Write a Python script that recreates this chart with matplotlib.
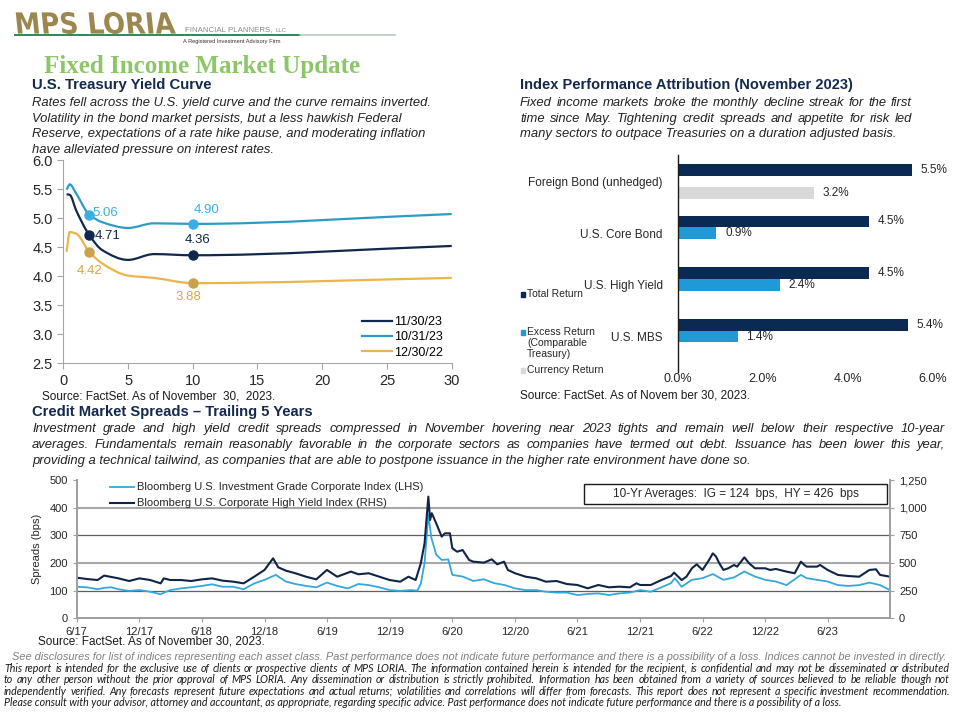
import numpy as np
import pandas as pd
import matplotlib
matplotlib.use('Agg')
import matplotlib.pyplot as plt
import matplotlib.dates as md
from matplotlib.path import Path
from matplotlib.patches import PathPatch, Rectangle
from matplotlib.lines import Line2D
from matplotlib.textpath import TextPath
from matplotlib.font_manager import FontProperties
from matplotlib.transforms import Affine2D
from matplotlib.ticker import FuncFormatter

plt.rcParams['font.family'] = ['Liberation Sans', 'DejaVu Sans']

# ---- data: treasury yield curve ----
maturities = [0.25, 0.5, 1, 2, 3, 5, 7, 10, 30]
yc_nov23 = [5.41, 5.40, 5.13, 4.71, 4.45, 4.28, 4.38, 4.36, 4.52]
yc_oct23 = [5.49, 5.58, 5.42, 5.06, 4.93, 4.83, 4.91, 4.90, 5.07]
yc_dec22 = [4.42, 4.76, 4.73, 4.42, 4.22, 4.01, 3.97, 3.88, 3.97]
yc_labels = ['11/30/23', '10/31/23', '12/30/22']
marked_maturities = [2, 10]

# ---- data: index performance attribution ----
categories = ['Foreign Bond (unhedged)', 'U.S. Core Bond', 'U.S. High Yield', 'U.S. MBS']
total_ret = [5.5, 4.5, 4.5, 5.4]
excess_ret = [np.nan, 0.9, 2.4, 1.4]
currency_ret = [3.2, np.nan, np.nan, np.nan]

# ---- data: credit spreads (bps) ----
ig_dates = ['2017-06-01', '2017-07-01', '2017-08-01', '2017-08-20', '2017-09-10', '2017-10-01',
            '2017-11-01', '2017-12-01', '2018-01-01', '2018-02-01', '2018-02-15', '2018-03-01',
            '2018-04-01', '2018-05-01', '2018-06-01', '2018-07-01', '2018-08-01', '2018-09-01',
            '2018-10-01', '2018-11-01', '2018-12-01', '2019-01-03', '2019-02-01', '2019-03-01',
            '2019-04-01', '2019-05-01', '2019-06-01', '2019-07-01', '2019-08-01', '2019-09-01',
            '2019-10-01', '2019-11-01', '2019-12-01', '2020-01-01', '2020-02-01', '2020-02-20',
            '2020-03-01', '2020-03-12', '2020-03-23', '2020-04-01', '2020-04-15', '2020-05-01',
            '2020-05-20', '2020-06-01', '2020-07-01', '2020-08-01', '2020-09-01', '2020-10-01',
            '2020-11-01', '2020-12-01', '2021-01-01', '2021-02-01', '2021-03-01', '2021-04-01',
            '2021-05-01', '2021-06-01', '2021-07-01', '2021-08-01', '2021-09-01', '2021-10-01',
            '2021-11-01', '2021-12-01', '2022-01-01', '2022-02-01', '2022-03-01', '2022-03-12',
            '2022-04-01', '2022-05-01', '2022-06-01', '2022-07-01', '2022-08-01', '2022-09-01',
            '2022-10-01', '2022-11-01', '2022-12-01', '2023-01-01', '2023-02-01', '2023-03-15',
            '2023-04-01', '2023-05-01', '2023-06-01', '2023-07-01', '2023-08-01', '2023-09-01',
            '2023-10-01', '2023-11-01', '2023-11-30']
ig_spread = [114, 112, 105, 110, 112, 105,
             99, 102, 96, 87, 95, 102,
             108, 112, 117, 123, 114, 114,
             105, 126, 139, 157, 133, 124,
             117, 112, 129, 117, 108, 124,
             120, 112, 102, 99, 102, 100,
             125, 200, 373, 290, 230, 211,
             213, 157, 151, 135, 141, 127,
             120, 108, 102, 102, 96, 93,
             93, 84, 88, 90, 84, 90,
             93, 102, 96, 112, 127, 145,
             114, 139, 145, 160, 139, 148,
             169, 151, 139, 133, 120, 157,
             145, 139, 133, 120, 117, 120,
             129, 120, 102]

hy_dates = ['2017-06-01', '2017-07-01', '2017-08-01', '2017-08-20', '2017-10-01', '2017-11-01',
            '2017-12-01', '2018-01-01', '2018-02-01', '2018-02-10', '2018-03-01', '2018-04-01',
            '2018-05-01', '2018-06-01', '2018-07-01', '2018-08-01', '2018-09-01', '2018-10-01',
            '2018-11-01', '2018-12-01', '2018-12-26', '2019-01-10', '2019-02-01', '2019-03-01',
            '2019-04-01', '2019-05-01', '2019-06-01', '2019-07-01', '2019-08-10', '2019-09-01',
            '2019-10-01', '2019-11-01', '2019-12-01', '2020-01-01', '2020-01-25', '2020-02-15',
            '2020-03-01', '2020-03-12', '2020-03-23', '2020-03-28', '2020-04-02', '2020-04-15',
            '2020-05-01', '2020-05-10', '2020-05-25', '2020-06-01', '2020-06-15', '2020-07-01',
            '2020-07-20', '2020-08-01', '2020-09-01', '2020-09-24', '2020-10-10', '2020-10-30',
            '2020-11-10', '2020-12-01', '2021-01-01', '2021-02-01', '2021-03-01', '2021-04-01',
            '2021-05-01', '2021-06-01', '2021-07-01', '2021-08-01', '2021-09-01', '2021-10-01',
            '2021-11-01', '2021-11-20', '2021-12-01', '2022-01-01', '2022-02-01', '2022-03-01',
            '2022-03-10', '2022-04-01', '2022-04-15', '2022-05-01', '2022-05-15', '2022-06-01',
            '2022-06-20', '2022-07-01', '2022-07-10', '2022-07-20', '2022-08-01', '2022-08-15',
            '2022-09-01', '2022-09-10', '2022-10-01', '2022-10-15', '2022-11-01', '2022-12-01',
            '2022-12-15', '2023-01-01', '2023-02-01', '2023-02-25', '2023-03-15', '2023-03-25',
            '2023-04-01', '2023-05-01', '2023-05-10', '2023-06-01', '2023-07-01', '2023-08-01',
            '2023-09-01', '2023-10-01', '2023-10-20', '2023-11-01', '2023-11-30']
hy_spread = [367, 355, 346, 386, 361, 337,
             361, 346, 316, 361, 346, 346,
             337, 352, 361, 340, 331, 316,
             376, 437, 542, 461, 431, 407,
             376, 352, 437, 376, 422, 398,
             407, 376, 346, 331, 376, 346,
             497, 678, 1100, 888, 950, 858,
             738, 768, 768, 633, 602, 617,
             527, 512, 503, 533, 488, 512,
             437, 407, 376, 361, 331, 337,
             310, 301, 271, 301, 280, 286,
             280, 316, 301, 301, 346, 382,
             413, 346, 376, 452, 488, 437,
             527, 587, 560, 497, 437, 452,
             482, 467, 551, 497, 452, 452,
             437, 446, 422, 407, 512, 482,
             467, 467, 482, 437, 392, 382,
             376, 437, 443, 392, 376]

NAVY = '#10284e'
BLUE = '#1f9ad6'
W, H = 960, 720

fig = plt.figure(figsize=(9.6, 7.2), dpi=100)
renderer = fig.canvas.get_renderer()


def fx(x):
    return x / W


def fy(y):
    return 1 - y / H


def rect(l, t, r, b):
    return [l / W, 1 - b / H, (r - l) / W, (b - t) / H]


def fit(t, width):
    # scale the font so the text spans the given pixel width
    w = t.get_window_extent(renderer).width
    t.set_fontsize(t.get_fontsize() * width / w)
    return t.get_fontsize()


def base(y, size):
    # baseline for a line whose visual centre is at pixel y
    return y + 0.26 * size * 100 / 72


def line_text(x, y, s, size, **kw):
    return fig.text(fx(x), fy(base(y, size)), s, fontsize=size, va='baseline', **kw)


def justify(line, x0, x1, y, size, **kw):
    words = line.split()
    texts = [fig.text(0, 0, w, fontsize=size, va='baseline', **kw) for w in words]
    widths = [t.get_window_extent(renderer).width for t in texts]
    gap = (x1 - x0 - sum(widths)) / (len(words) - 1)
    x = x0
    for t, w in zip(texts, widths):
        t.set_position((fx(x), fy(base(y, size))))
        x += w + gap


def smooth_path(x, y):
    # monotone cubic (bezier) through the points, like a smoothed line
    x = np.asarray(x, float)
    y = np.asarray(y, float)
    h = np.diff(x)
    d = np.diff(y) / h
    m = np.zeros_like(y)
    m[0], m[-1] = d[0], d[-1]
    for i in range(1, len(x) - 1):
        if d[i - 1] * d[i] > 0:
            w1 = 2 * h[i] + h[i - 1]
            w2 = h[i] + 2 * h[i - 1]
            m[i] = (w1 + w2) / (w1 / d[i - 1] + w2 / d[i])
    verts = [(x[0], y[0])]
    codes = [Path.MOVETO]
    for i in range(len(x) - 1):
        verts += [(x[i] + h[i] / 3, y[i] + m[i] * h[i] / 3),
                  (x[i + 1] - h[i] / 3, y[i + 1] - m[i + 1] * h[i] / 3),
                  (x[i + 1], y[i + 1])]
        codes += [Path.CURVE4] * 3
    return Path(verts, codes)


# ---------------- header / logo ----------------
tp = TextPath((0, 0), 'MPS LORIA', size=40, prop=FontProperties(family='DejaVu Sans', weight='bold'))
ext = tp.get_extents()
sx = 158 / ext.width
sy = 22 / ext.height
logo_tr = Affine2D().translate(-ext.x0, -ext.y0).scale(sx, sy).skew_deg(-6, 0).translate(18, H - 34)
fig.add_artist(PathPatch(tp, transform=logo_tr, facecolor='#9c874e', edgecolor='none'))
fig.add_artist(Line2D([fx(15), fx(300)], [fy(35), fy(35)], color='#2f8a55', lw=1.4))
fig.add_artist(Line2D([fx(300), fx(395)], [fy(35), fy(35)], color='#b9c9bd', lw=1.2))
fp = fig.text(fx(185), fy(30), 'FINANCIAL PLANNERS,', fontsize=6.6, color='#8a8a8a', va='center')
fit(fp, 87)
fig.text(fx(276), fy(30.5), 'LLC', fontsize=4.3, color='#8a8a8a', va='center')
fr = fig.text(fx(183), fy(42), 'A Registered Investment Advisory Firm', fontsize=4.3, color='#333333',
              va='center')
fit(fr, 98)

t = fig.text(fx(44), fy(66), 'Fixed Income Market Update', family='Liberation Serif',
             fontsize=18, color='#8cc668', va='center', weight='bold')
fit(t, 316)

h1 = fig.text(fx(32), fy(85), 'U.S. Treasury Yield Curve', weight='bold', fontsize=10.5,
              color='#14294d', va='center')
fit(h1, 181)
h2 = fig.text(fx(520), fy(85), 'Index Performance Attribution (November 2023)', weight='bold',
              fontsize=10.5, color='#14294d', va='center')
fit(h2, 335)
h3 = fig.text(fx(32), fy(412), 'Credit Market Spreads \u2013 Trailing 5 Years', weight='bold',
              fontsize=10.5, color='#14294d', va='center')
fit(h3, 282)

desc = dict(style='italic', color='#222222')
d1 = line_text(32, 103, 'Rates fell across the U.S. yield curve and the curve remains inverted.', 9, **desc)
dsize = fit(d1, 401)
d1.set_position((fx(32), fy(base(103, dsize))))
left_desc = ['Volatility in the bond market persists, but a less hawkish Federal',
             'Reserve, expectations of a rate hike pause, and moderating inflation',
             'have alleviated pressure on interest rates.']
for i, line in enumerate(left_desc):
    line_text(32, 118.5 + 15.6 * i, line, dsize, **desc)

justify('Fixed income markets broke the monthly decline streak for the first', 520, 912, 103, dsize, **desc)
justify('time since May. Tightening credit spreads and appetite for risk led', 520, 912, 118.5, dsize, **desc)
line_text(520, 134, 'many sectors to outpace Treasuries on a duration adjusted basis.', dsize, **desc)

justify('Investment grade and high yield credit spreads compressed in November hovering near 2023 tights '
        'and remain well below their respective 10-year', 32, 945, 429, dsize, **desc)
justify('averages. Fundamentals remain reasonably favorable in the corporate sectors as companies have termed '
        'out debt. Issuance has been lower this year,', 32, 945, 445, dsize, **desc)
line_text(32, 461, 'providing a technical tailwind, as companies that are able to postpone issuance '
          'in the higher rate environment have done so.', dsize, **desc)

# ---------------- yield curve ----------------
ax1 = fig.add_axes(rect(63.3, 160, 451.7, 363.3))
line_cols = [NAVY, '#2c9cc6', '#ebb54b']
mark_cols = ['#10284e', '#3ab0e2', '#c9a24a']
handles = []
for yv, lc, mc, lab in zip([yc_nov23, yc_oct23, yc_dec22], line_cols, mark_cols, yc_labels):
    ax1.add_patch(PathPatch(smooth_path(maturities, yv), fill=False, edgecolor=lc, lw=1.6))
    mv = [yv[maturities.index(m)] for m in marked_maturities]
    ax1.plot(marked_maturities, mv, 'o', color=mc, ms=6.5, zorder=5)
    handles.append(Line2D([], [], color=lc, lw=1.6, label=lab))

ax1.text(3.22, 5.08, '5.06', color='#3ab0e2', fontsize=9.5, ha='center', va='center')
ax1.text(11.04, 5.14, '4.90', color='#3ab0e2', fontsize=9.5, ha='center', va='center')
ax1.text(3.45, 4.69, '4.71', color='#10284e', fontsize=9.5, ha='center', va='center')
ax1.text(10.4, 4.63, '4.36', color='#10284e', fontsize=9.5, ha='center', va='center')
ax1.text(2.0, 4.09, '4.42', color='#d6a845', fontsize=9.5, ha='center', va='center')
ax1.text(9.67, 3.64, '3.88', color='#d6a845', fontsize=9.5, ha='center', va='center')

ax1.set_xlim(0, 30)
ax1.set_ylim(2.5, 6.0)
ax1.set_xticks(range(0, 31, 5))
ax1.set_yticks(np.arange(2.5, 6.01, 0.5))
ax1.yaxis.set_major_formatter(FuncFormatter(lambda v, p: f'{v:.1f}'))
for s in ['top', 'right']:
    ax1.spines[s].set_visible(False)
for s in ['left', 'bottom']:
    ax1.spines[s].set_color('#a6a6a6')
ax1.tick_params(colors='#a6a6a6', labelcolor='#262626', labelsize=10.5, length=4)
ax1.legend(handles=handles, loc='lower right', frameon=False, fontsize=9, handlelength=2.4,
           handletextpad=0.2, labelspacing=0.25, bbox_to_anchor=(1.0, -0.02), borderaxespad=0.3)
fig.text(fx(42), fy(396), 'Source: FactSet. As of November  30,  2023.', fontsize=8.5,
         color='#1a1a1a', va='center')

# ---------------- attribution bars ----------------
ax2 = fig.add_axes(rect(678, 155, 933, 371.7))
pos = np.arange(len(categories))
bh = 0.226
ax2.barh(pos - bh, total_ret, height=bh, color='#0b2a53')
ax2.barh(pos, excess_ret, height=bh, color=BLUE)
ax2.barh(pos + bh, currency_ret, height=bh, color='#d9d9d9')
for off, vals in [(-bh, total_ret), (0, excess_ret), (bh, currency_ret)]:
    for p, v in zip(pos, vals):
        if not np.isnan(v):
            ax2.text(v + 0.21, p + off, f'{v:.1f}%', fontsize=8.5, color='#262626', va='center')
ax2.set_xlim(0, 6)
ax2.set_ylim(3.68, -0.51)
ax2.set_yticks(pos)
ax2.set_yticklabels(categories, fontsize=8.5, color='#262626')
ax2.set_xticks([0, 2, 4, 6])
ax2.xaxis.set_major_formatter(FuncFormatter(lambda v, p: f'{v:.1f}%'))
ax2.tick_params(axis='y', length=0, pad=11)
ax2.tick_params(axis='x', length=0, pad=1, labelsize=9, labelcolor='#262626')
for s in ['top', 'right', 'bottom']:
    ax2.spines[s].set_visible(False)
ax2.spines['left'].set_color('#1a1a1a')
ax2.spines['left'].set_linewidth(1.0)

leg_items = [('#0b2a53', ['Total Return'], 294),
             (BLUE, ['Excess Return', '(Comparable', 'Treasury)'], 332),
             ('#d9d9d9', ['Currency Return'], 370)]
for col, lines, y0 in leg_items:
    fig.add_artist(Rectangle((fx(520.5), fy(y0 + 2.5)), 4.5 / W, 5 / H, color=col))
    for k, ln in enumerate(lines):
        fig.text(fx(527), fy(y0 + 11 * k), ln, fontsize=7.5, color='#262626', va='center')
fig.text(fx(520), fy(395), 'Source: FactSet. As of Novem ber 30, 2023.', fontsize=8.5,
         color='#1a1a1a', va='center')

# ---------------- credit spreads ----------------
ax3 = fig.add_axes(rect(76.7, 480, 890, 618.3))
ax3.plot(pd.to_datetime(ig_dates), ig_spread, color='#34a8dc', lw=1.3)
ax3b = ax3.twinx()
ax3b.plot(pd.to_datetime(hy_dates), hy_spread, color='#0f2447', lw=1.5)
ax3.set_xlim(pd.Timestamp('2017-06-01'), pd.Timestamp('2023-11-30'))
ax3.set_ylim(0, 500)
ax3b.set_ylim(0, 1250)
ax3.set_yticks(range(0, 501, 100))
ax3b.set_yticks(range(0, 1251, 250))
ax3b.yaxis.set_major_formatter(FuncFormatter(lambda v, p: f'{v:,.0f}'))
ax3.xaxis.set_major_locator(md.MonthLocator(bymonth=[6, 12]))
ax3.xaxis.set_major_formatter(FuncFormatter(lambda v, p: f'{md.num2date(v).month}/{md.num2date(v):%y}'))
for g, c, lw in [(100, '#5f5f5f', 0.9), (200, '#a8a8a8', 1.5), (300, '#5f5f5f', 0.9), (400, '#a8a8a8', 1.5)]:
    ax3.axhline(g, color=c, lw=lw, zorder=0)
for a in (ax3, ax3b):
    a.spines['top'].set_visible(False)
    for s in ['left', 'right', 'bottom']:
        a.spines[s].set_color('#a0a0a0')
        a.spines[s].set_linewidth(1.3)
    a.tick_params(colors='#a0a0a0', labelcolor='#262626', labelsize=8, length=3)
fig.text(fx(37), fy(549), 'Spreads (bps)', rotation=90, fontsize=8, color='#262626', va='center', ha='center')

fig.add_artist(Line2D([fx(110), fx(134)], [fy(486.7), fy(486.7)], color='#34a8dc', lw=1.3))
fig.add_artist(Line2D([fx(110), fx(134)], [fy(502.7), fy(502.7)], color='#0f2447', lw=1.5))
fig.text(fx(137), fy(486.7), 'Bloomberg U.S. Investment Grade Corporate Index (LHS)', fontsize=8,
         color='#262626', va='center')
fig.text(fx(137), fy(502.7), 'Bloomberg U.S. Corporate High Yield Index (RHS)', fontsize=8,
         color='#262626', va='center')
fig.add_artist(Rectangle((fx(584), fy(504)), 303 / W, 20 / H, facecolor='white',
                         edgecolor='#1a1a1a', lw=1.0))
fig.text(fx(735.5), fy(494), '10-Yr Averages:  IG = 124  bps,  HY = 426  bps', fontsize=8.5,
         color='#262626', va='center', ha='center')
fig.text(fx(38), fy(642), 'Source: FactSet. As of November 30, 2023.', fontsize=8.5,
         color='#1a1a1a', va='center')

# ---------------- footer ----------------
f1 = line_text(12, 657, 'See disclosures for list of indices representing each asset class. Past '
               'performance does not indicate future performance and there is a possibility of a loss. '
               'Indices cannot be invested in directly.', 8, style='italic', color='#808080')
f1size = fit(f1, 943)
f1.set_position((fx(12), fy(base(657, f1size))))
foot = ['This report is intended for the exclusive use of clients or prospective clients of MPS LORIA. The '
        'information contained herein is intended for the recipient, is confidential and may not be '
        'disseminated or distributed',
        'to any other person without the prior approval of MPS LORIA. Any dissemination or distribution is '
        'strictly prohibited. Information has been obtained from a variety of sources believed to be '
        'reliable though not',
        'independently verified. Any forecasts represent future expectations and actual returns; volatilities '
        'and correlations will differ from forecasts. This report does not represent a specific investment '
        'recommendation.']
foot_kw = dict(family='Lato', style='italic', color='#1a1a1a')
t5 = line_text(4, 703.3, 'Please consult with your advisor, attorney and accountant, as appropriate, '
               'regarding specific advice. Past performance does not indicate future performance and there '
               'is a possibility of a loss.', 7.5, **foot_kw)
fsize = fit(t5, 832)
t5.set_position((fx(4), fy(base(703.3, fsize))))
for i, line in enumerate(foot):
    justify(line, 4, 950, 669 + 11.5 * i, fsize, **foot_kw)

fig.savefig('out.png', dpi=100)
